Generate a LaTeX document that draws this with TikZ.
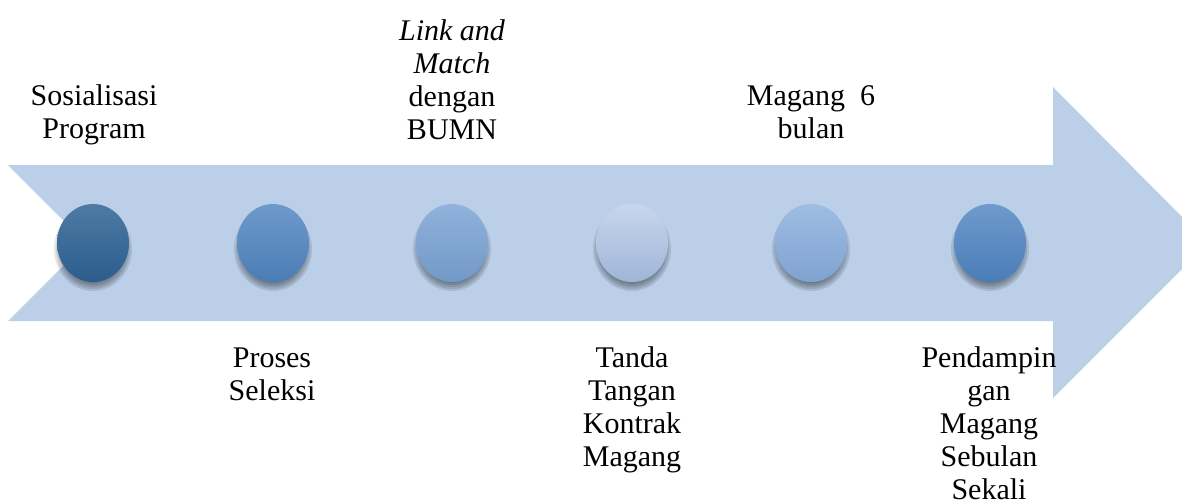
\documentclass[tikz,border=0pt]{standalone}
\usepackage{fontspec}
\setmainfont{Liberation Serif}
\newfontfamily\tnr{Liberation Serif}
\usetikzlibrary{shapes.geometric}
\definecolor{arrowblue}{HTML}{BBCFE8}
\definecolor{caT}{HTML}{4E7AA4}\definecolor{caB}{HTML}{2C5D8D}
\definecolor{cbT}{HTML}{6E9ACB}\definecolor{cbB}{HTML}{4A7DB5}
\definecolor{ccT}{HTML}{90B2DB}\definecolor{ccB}{HTML}{7399C8}
\definecolor{cdT}{HTML}{C6D6EC}\definecolor{cdB}{HTML}{A0B6D7}
\definecolor{ceT}{HTML}{9EBDE3}\definecolor{ceB}{HTML}{7FA2CF}
\definecolor{cfT}{HTML}{6F9ACC}\definecolor{cfB}{HTML}{4A7DB8}
\begin{document}
\begin{tikzpicture}[x=1pt,y=-1pt,
  lbl/.style={font=\tnr\fontsize{30}{33}\selectfont, align=center, inner sep=0pt, anchor=north},
  dot/.style={ellipse, minimum width=72pt, minimum height=78pt, inner sep=0pt},
  softshadow/.style={fill=black, opacity=0.1}]
\useasboundingbox (0,0) rectangle (1182,501);
\clip (0,0) rectangle (1182,501);
% big arrow
\fill[arrowblue] (8,165) -- (1053,165) -- (1053,87) -- (1208,243) -- (1053,398)
  -- (1053,321) -- (8,321) -- (86,243) -- cycle;
% soft shadows under the dots
\foreach \cx in {93,273,452,632,811,990}{
  \foreach \r in {-4,-2,0,2,4}{
    \fill[softshadow] (\cx,249) ellipse [x radius=35+\r, y radius=38+\r];
  }
}
% dots
\node[dot, top color=caT, bottom color=caB] (d1) at (93,243) {};
\node[dot, top color=cbT, bottom color=cbB] (d2) at (273,243) {};
\node[dot, top color=ccT, bottom color=ccB] (d3) at (452,243) {};
\node[dot, top color=cdT, bottom color=cdB] (d4) at (632,243) {};
\node[dot, top color=ceT, bottom color=ceB] (d5) at (811,243) {};
\node[dot, top color=cfT, bottom color=cfB] (d6) at (990,243) {};
% labels above
\node[lbl] (t1) at (94,81.9) {\strut Sosialisasi\\Program};
\node[lbl] (t3) at (452,16.9) {\strut\itshape Link and\\\itshape Match\\dengan\\BUMN};
\node[lbl] (t5) at (811,81.9) {\strut Magang\ \ 6\\bulan};
% labels below
\node[lbl] (t2) at (272,343.9) {\strut Proses\\Seleksi};
\node[lbl] (t4) at (632,343.9) {\strut Tanda\\Tangan\\Kontrak\\Magang};
\node[lbl] (t6) at (989,343.9) {\strut Pendampin\\gan\\Magang\\Sebulan\\Sekali};
\end{tikzpicture}
\end{document}
